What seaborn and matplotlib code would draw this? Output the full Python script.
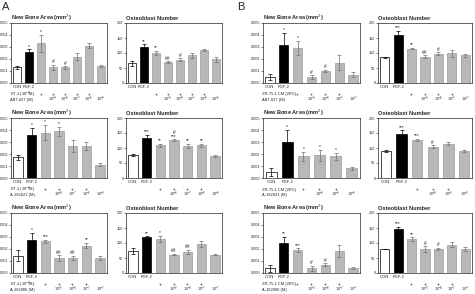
import pandas as pd
import seaborn as sns
import matplotlib.pyplot as plt
from matplotlib.transforms import blended_transform_factory

# ---- data ----
# Panel A, row 1 (ET-1 + ABT-627)
a1_bone = [0.0013, 0.0026, 0.0033, 0.0013, 0.0013, 0.0022, 0.0031, 0.0014]
a1_bone_err = [0.0001, 0.0002, 0.0007, 0.0002, 0.0001, 0.0003, 0.0002, 0.0001]
a1_bone_sig = ["", "*", "*", "#", "#", "", "", ""]
a1_osteo = [66, 121, 101, 70, 77, 92, 110, 79]
a1_osteo_err = [8, 8, 7, 3, 5, 7, 4, 9]
a1_osteo_sig = ["", "**", "**", "##", "#", "", "", ""]
a1_agent = ["", "", "+", "+", "+", "+", "+", ""]
a1_dose = ["", "", "", "10$^{-9}$", "10$^{-8}$", "10$^{-7}$", "10$^{-6}$", "10$^{-6}$"]

# Panel A, row 2 (ET-1 + A-192621)
a2_bone = [0.00173, 0.00357, 0.00379, 0.0039, 0.00266, 0.00266, 0.0011]
a2_bone_err = [0.00019, 0.00063, 0.00066, 0.00036, 0.0005, 0.00036, 0.00014]
a2_bone_sig = ["", "*", "*", "*", "", "", ""]
a2_osteo = [77, 132, 110, 126, 107, 110, 74]
a2_osteo_err = [3, 13, 5, 3, 7, 5, 3]
a2_osteo_sig = ["", "***", "**", "#\n***", "**", "**", ""]
a2_agent = ["", "", "+", "+", "+", "+", ""]
a2_dose = ["", "", "", "10$^{-8}$", "10$^{-7}$", "10$^{-6}$", "10$^{-6}$"]

# Panel A, row 3 (ET-1 + A-182086)
a3_bone = [0.00144, 0.00278, 0.00264, 0.00125, 0.00125, 0.00228, 0.00125]
a3_bone_err = [0.00046, 0.00055, 0.00014, 0.00022, 0.00017, 0.00022, 0.00017]
a3_bone_sig = ["", "*", "***", "##", "##", "**", ""]
a3_osteo = [74, 120, 113, 61, 71, 97, 61]
a3_osteo_err = [10, 2, 11, 2, 7, 10, 2]
a3_osteo_sig = ["", "**", "*", "##", "##", "", ""]
a3_agent = ["", "", "+", "+", "+", "+", ""]
a3_dose = ["", "", "", "10$^{-9}$", "10$^{-8}$", "10$^{-7}$", "10$^{-7}$"]

# Panel B, row 1 (ZR-75-1 CM + ABT-627)
b1_bone = [0.0005, 0.0032, 0.0029, 0.0005, 0.0010, 0.0017, 0.0007]
b1_bone_err = [0.00025, 0.0010, 0.0006, 0.00015, 0.0001, 0.0006, 0.0002]
b1_bone_sig = ["", "*", "*", "#", "#", "", ""]
b1_osteo = [86, 160, 115, 88, 97, 99, 93]
b1_osteo_err = [2, 13, 3, 4, 5, 11, 5]
b1_osteo_sig = ["", "***", "**", "##", "#", "", ""]
b1_agent = ["", "", "+", "+", "+", "+", ""]
b1_dose = ["", "", "", "10$^{-9}$", "10$^{-8}$", "10$^{-7}$", "10$^{-7}$"]

# Panel B, row 2 (ZR-75-1 CM + A-192621)
b2_bone = [0.0005, 0.0030, 0.0018, 0.0019, 0.0018, 0.0008]
b2_bone_err = [0.0003, 0.0010, 0.0004, 0.00045, 0.0003, 0.00015]
b2_bone_sig = ["", "*", "*", "*", "*", ""]
b2_osteo = [90, 148, 126, 104, 115, 90]
b2_osteo_err = [2, 11, 4, 5, 6, 3]
b2_osteo_sig = ["", "***", "***", "#", "", ""]
b2_agent = ["", "", "+", "+", "+", ""]
b2_dose = ["", "", "", "10$^{-8}$", "10$^{-6}$", "10$^{-6}$"]

# Panel B, row 3 (ZR-75-1 CM + A-182086)
b3_bone = [0.0004, 0.0025, 0.0019, 0.0004, 0.0007, 0.0018, 0.0004]
b3_bone_err = [0.0003, 0.0005, 0.00015, 0.0002, 0.0001, 0.0005, 0.0001]
b3_bone_sig = ["", "**", "***", "#", "#", "", ""]
b3_osteo = [80, 147, 113, 80, 80, 94, 80]
b3_osteo_err = [1, 8, 6, 9, 3, 8, 6]
b3_osteo_sig = ["", "***", "**", "#", "#", "", ""]
b3_agent = ["", "", "+", "+", "+", "+", ""]
b3_dose = ["", "", "", "10$^{-9}$", "10$^{-8}$", "10$^{-7}$", "10$^{-7}$"]

agent_names = ["ET-1 (10$^{-8}$M)", "ZR-75-1 CM (20%)"]
antagonist_names = ["ABT-627 (M)", "A-192621 (M)", "A-182086 (M)"]

sns.set_style("ticks")
plt.rcParams['font.family'] = ['Liberation Sans', 'DejaVu Sans']
plt.rcParams['mathtext.fontset'] = 'custom'
plt.rcParams['mathtext.rm'] = 'Liberation Sans'

W, H = 475, 294
fig = plt.figure(figsize=(W / 100, H / 100), dpi=100)


def make_ax(left, right, top, bottom):
    return fig.add_axes([left / W, 1 - bottom / H, (right - left) / W, (bottom - top) / H])


def draw_panel(ax, vals, errs, sig, agent, dose, ymax, step, fmt, title):
    n = len(vals)
    df = pd.DataFrame({"bar": [str(i) for i in range(n)], "value": vals})
    colors = ["white", "black"] + ["#b8b8b8"] * (n - 2)
    sns.barplot(data=df, x="bar", y="value", hue="bar", palette=colors,
                legend=False, ax=ax, width=0.68, saturation=1)
    for i, p in enumerate(ax.patches):
        p.set_edgecolor("black" if i < 2 else "#9a9a9a")
        p.set_linewidth(0.5)
    for i in range(n):
        ec = "black" if i < 2 else "#707070"
        ax.errorbar(i, vals[i], yerr=errs[i], fmt="none", ecolor=ec,
                    elinewidth=0.5, capsize=1.5, capthick=0.5)
        if sig[i]:
            ax.text(i, vals[i] + errs[i] + ymax * 0.01, sig[i], ha="center",
                    va="bottom", fontsize=3.5, linespacing=0.75)
    ax.set_xlim(-0.5, n - 0.5)
    ax.set_ylim(0, ymax)
    ticks = [k * step for k in range(int(round(ymax / step)) + 1)]
    ax.set_yticks(ticks)
    ax.set_yticklabels([fmt.format(t) for t in ticks])
    ax.set_xticks(range(n))
    ax.set_xticklabels(["CON", "FGF-2"] + [""] * (n - 2))
    ax.tick_params(axis="x", length=0, pad=1.2, labelsize=3.0)
    ax.tick_params(axis="y", length=1.2, width=0.4, pad=0.6, labelsize=2.7)
    ax.set_xlabel("")
    ax.set_ylabel("")
    for s in ax.spines.values():
        s.set_linewidth(0.5)
        s.set_visible(True)
    ax.set_title(title, loc="left", fontsize=4.1, fontweight="bold", pad=2)
    tr = blended_transform_factory(ax.transData, ax.transAxes)
    for i in range(n):
        if agent[i]:
            ax.text(i, -0.19, agent[i], transform=tr, ha="center", va="center", fontsize=3.6)
        if dose[i]:
            ax.text(i, -0.28, dose[i], transform=tr, ha="center", va="center", fontsize=2.7)


rows = [
    (a1_bone, a1_bone_err, a1_bone_sig, a1_osteo, a1_osteo_err, a1_osteo_sig, a1_agent, a1_dose,
     b1_bone, b1_bone_err, b1_bone_sig, b1_osteo, b1_osteo_err, b1_osteo_sig, b1_agent, b1_dose),
    (a2_bone, a2_bone_err, a2_bone_sig, a2_osteo, a2_osteo_err, a2_osteo_sig, a2_agent, a2_dose,
     b2_bone, b2_bone_err, b2_bone_sig, b2_osteo, b2_osteo_err, b2_osteo_sig, b2_agent, b2_dose),
    (a3_bone, a3_bone_err, a3_bone_sig, a3_osteo, a3_osteo_err, a3_osteo_sig, a3_agent, a3_dose,
     b3_bone, b3_bone_err, b3_bone_sig, b3_osteo, b3_osteo_err, b3_osteo_sig, b3_agent, b3_dose),
]

tops = [23, 118, 213]
cols = [(11, 107), (126, 222), (263, 360), (378, 472)]
bone_title = "New Bone Area (mm$^{2}$)"
osteo_title = "Osteoblast Number"

for r, row in enumerate(rows):
    top = tops[r]
    bot = top + 60
    (ab, abe, abs_, ao, aoe, aos, aag, ado, bb, bbe, bbs, bo, boe, bos, bag, bdo) = row
    ax = make_ax(*cols[0], top, bot)
    draw_panel(ax, ab, abe, abs_, aag, ado, 0.005, 0.001, "{:.3f}", bone_title)
    ax = make_ax(*cols[1], top, bot)
    draw_panel(ax, ao, aoe, aos, aag, ado, 200, 50, "{:.0f}", osteo_title)
    ax = make_ax(*cols[2], top, bot)
    draw_panel(ax, bb, bbe, bbs, bag, bdo, 0.005, 0.001, "{:.3f}", bone_title)
    ax = make_ax(*cols[3], top, bot)
    draw_panel(ax, bo, boe, bos, bag, bdo, 200, 50, "{:.0f}", osteo_title)

    # treatment row names under the bone-area plots
    for c, name in ((0, agent_names[0]), (2, agent_names[1])):
        x = (cols[c][0] - 1) / W
        fig.text(x, 1 - (bot + 11.5) / H, name, fontsize=2.9, va="center", ha="left")
        fig.text(x, 1 - (bot + 17) / H, antagonist_names[r], fontsize=2.9, va="center", ha="left")

fig.text(2 / W, 1 - 7 / H, "A", fontsize=8, va="center", ha="left")
fig.text(237 / W, 1 - 7 / H, "B", fontsize=8, va="center", ha="left")

fig.savefig("out.png", dpi=100)
